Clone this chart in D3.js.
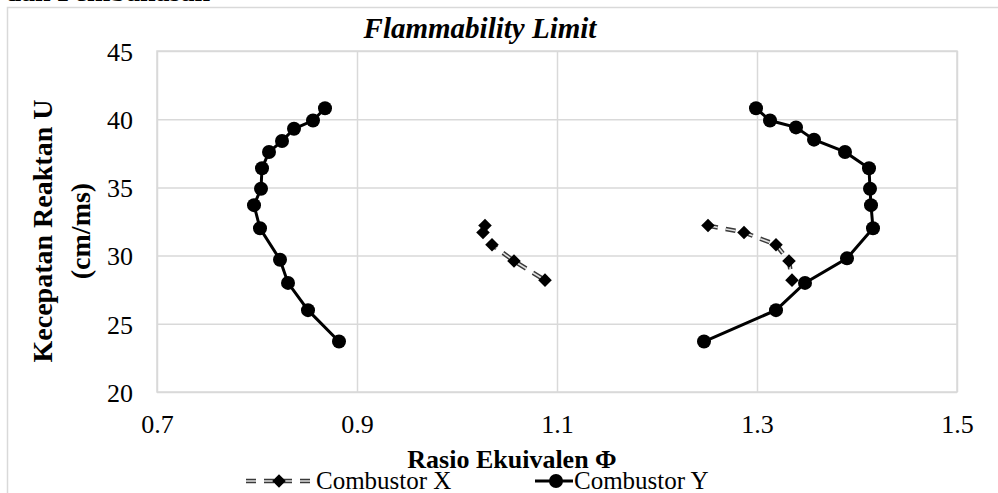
<!DOCTYPE html>
<html>
<head>
<meta charset="utf-8">
<script src="https://cdn.jsdelivr.net/npm/d3@7"></script>
<style>
    body { margin: 0; background: #fff; }
    svg text { font-family: "Liberation Serif", "Times New Roman", serif; fill: #000; }
</style>
</head>
<body>
<main></main>
<script>
// Combustor Y, lean and rich branches
const phiYLean = [0.868, 0.856, 0.837, 0.825, 0.812, 0.805, 0.804, 0.797, 0.803, 0.823, 0.831, 0.851, 0.882];
const uYLean   = [40.8, 39.9, 39.3, 38.4, 37.6, 36.4, 34.9, 33.7, 32.0, 29.7, 28.0, 26.0, 23.7];
const phiYRich = [1.299, 1.313, 1.339, 1.357, 1.388, 1.412, 1.413, 1.414, 1.416, 1.390, 1.348, 1.319, 1.247];
const uYRich   = [40.8, 39.9, 39.4, 38.5, 37.6, 36.4, 34.9, 33.7, 32.0, 29.8, 28.0, 26.0, 23.7];

// Combustor X, lean and rich branches
const phiXLean = [1.028, 1.026, 1.035, 1.057, 1.088];
const uXLean   = [32.2, 31.7, 30.8, 29.6, 28.2];
const phiXRich = [1.251, 1.287, 1.319, 1.332, 1.335];
const uXRich   = [32.2, 31.7, 30.8, 29.6, 28.2];

const phiTicks = [0.7, 0.9, 1.1, 1.3, 1.5];
const uTicks = [20, 25, 30, 35, 40, 45];

const seriesNames = ["Combustor X", "Combustor Y"];

const drawChart = () => {

    const outerWidth = 998,
        outerHeight = 493,
        plot = {left: 157, right: 957, top: 51, bottom: 392};

    const svg = d3.select("main").append("svg")
        .attr("width", outerWidth)
        .attr("height", outerHeight);

    // page text cut off above the chart
    svg.append("text")
        .attr("x", 210)
        .attr("y", 1)
        .attr("text-anchor", "end")
        .attr("font-size", 28)
        .attr("font-weight", "bold")
        .text("dan Pembahasan");

    // chart area border
    svg.append("rect")
        .attr("x", 7.5).attr("y", 7.5)
        .attr("width", 1010).attr("height", 500)
        .attr("fill", "#fff")
        .attr("stroke", "#d9d9d9")
        .attr("stroke-width", 1.5);

    const xScale = d3.scaleLinear().domain([0.7, 1.5]).range([plot.left, plot.right]);
    const yScale = d3.scaleLinear().domain([20, 45]).range([plot.bottom, plot.top]);

    // grid
    const xGrid = d3.axisBottom(xScale).tickValues(phiTicks).tickSize(-(plot.bottom - plot.top)).tickFormat("");
    const yGrid = d3.axisLeft(yScale).tickValues(uTicks).tickSize(-(plot.right - plot.left)).tickFormat("");

    svg.append("g")
        .attr("transform", "translate(0," + plot.bottom + ")")
        .call(xGrid)
        .call(g => g.select(".domain").remove())
        .call(g => g.selectAll("line").attr("stroke", "#d9d9d9").attr("stroke-width", 1.5));

    svg.append("g")
        .attr("transform", "translate(" + plot.left + ",0)")
        .call(yGrid)
        .call(g => g.select(".domain").remove())
        .call(g => g.selectAll("line").attr("stroke", "#d9d9d9").attr("stroke-width", 1.5));

    svg.append("rect")
        .attr("x", plot.left).attr("y", plot.top)
        .attr("width", plot.right - plot.left).attr("height", plot.bottom - plot.top)
        .attr("fill", "none")
        .attr("stroke", "#d9d9d9")
        .attr("stroke-width", 1.5);

    // tick labels
    const xAxis = d3.axisBottom(xScale).tickValues(phiTicks).tickSize(0).tickPadding(0).tickFormat(d3.format(".1f"));
    const yAxis = d3.axisLeft(yScale).tickValues(uTicks).tickSize(0).tickPadding(0);

    svg.append("g")
        .attr("transform", "translate(0,410)")
        .call(xAxis)
        .call(g => g.select(".domain").remove())
        .call(g => g.selectAll("text").attr("font-size", 26).attr("font-family", null).attr("dy", "0.9em"));

    svg.append("g")
        .attr("transform", "translate(133,0)")
        .call(yAxis)
        .call(g => g.select(".domain").remove())
        .call(g => g.selectAll("text").attr("font-size", 26).attr("font-family", null).attr("dy", "0.36em"));

    // titles
    svg.append("text")
        .attr("x", 480).attr("y", 38)
        .attr("text-anchor", "middle")
        .attr("font-size", 29)
        .attr("font-weight", "bold")
        .attr("font-style", "italic")
        .text("Flammability Limit");

    svg.append("text")
        .attr("x", 512).attr("y", 468)
        .attr("text-anchor", "middle")
        .attr("font-size", 26)
        .attr("font-weight", "bold")
        .text("Rasio Ekuivalen \u03A6");

    const yTitle = svg.append("text")
        .attr("transform", "translate(0,231) rotate(-90)")
        .attr("text-anchor", "middle")
        .attr("font-size", 28)
        .attr("font-weight", "bold");
    yTitle.append("tspan").attr("x", 0).attr("y", 52).text("Kecepatan Reaktan U");
    yTitle.append("tspan").attr("x", 0).attr("y", 90).text("(cm/ms)");

    const line = d3.line()
        .x((d) => {return xScale(d.phi)})
        .y((d) => {return yScale(d.u)});

    const zip = (xs, ys) => xs.map((x, i) => ({phi: x, u: ys[i]}));

    const dataX = [zip(phiXLean, uXLean), zip(phiXRich, uXRich)];
    const dataY = [zip(phiYLean, uYLean), zip(phiYRich, uYRich)];

    // Combustor X: dashed compound line with diamonds
    const dashedLine = (sel) => {
        sel.append("path")
            .attr("fill", "none")
            .attr("stroke", "#3a3a3a")
            .attr("stroke-width", 4.5)
            .attr("stroke-dasharray", "10,8")
            .attr("d", sel.datum().d);
        sel.append("path")
            .attr("fill", "none")
            .attr("stroke", "#e0e0e0")
            .attr("stroke-width", 1.6)
            .attr("stroke-dasharray", "10,8")
            .attr("d", sel.datum().d);
    };

    dataX.forEach((branch) => {
        svg.append("g").datum({d: line(branch)}).call(dashedLine);
    });

    const diamond = d3.symbol().type(d3.symbolSquare).size(92);

    dataX.forEach((branch) => {
        svg.selectAll(null)
            .data(branch)
            .enter()
            .append("path")
            .attr("d", diamond)
            .attr("transform", (d) => "translate(" + xScale(d.phi) + "," + yScale(d.u) + ") rotate(45)")
            .attr("fill", "#000");
    });

    // Combustor Y: solid line with circles
    dataY.forEach((branch) => {
        svg.append("path")
            .datum(branch)
            .attr("fill", "none")
            .attr("stroke", "#000")
            .attr("stroke-width", 3)
            .attr("d", line);

        svg.selectAll(null)
            .data(branch)
            .enter()
            .append("circle")
            .attr("cx", (d) => xScale(d.phi))
            .attr("cy", (d) => yScale(d.u))
            .attr("r", 7)
            .attr("fill", "#000");
    });

    // legend
    const legY = 481;
    const legX = svg.append("g");
    legX.append("g").datum({d: "M246," + legY + "H314"}).call(dashedLine);
    legX.append("path")
        .attr("d", diamond)
        .attr("transform", "translate(279," + legY + ") rotate(45)")
        .attr("fill", "#000");
    legX.append("text")
        .attr("x", 316).attr("y", legY + 8)
        .attr("font-size", 25)
        .text(seriesNames[0]);

    const legYs = svg.append("g");
    legYs.append("line")
        .attr("x1", 535).attr("x2", 573)
        .attr("y1", legY).attr("y2", legY)
        .attr("stroke", "#000")
        .attr("stroke-width", 3);
    legYs.append("circle")
        .attr("cx", 556).attr("cy", legY)
        .attr("r", 7)
        .attr("fill", "#000");
    legYs.append("text")
        .attr("x", 574).attr("y", legY + 8)
        .attr("font-size", 25)
        .text(seriesNames[1]);
}

drawChart();
</script>
</body>
</html>
